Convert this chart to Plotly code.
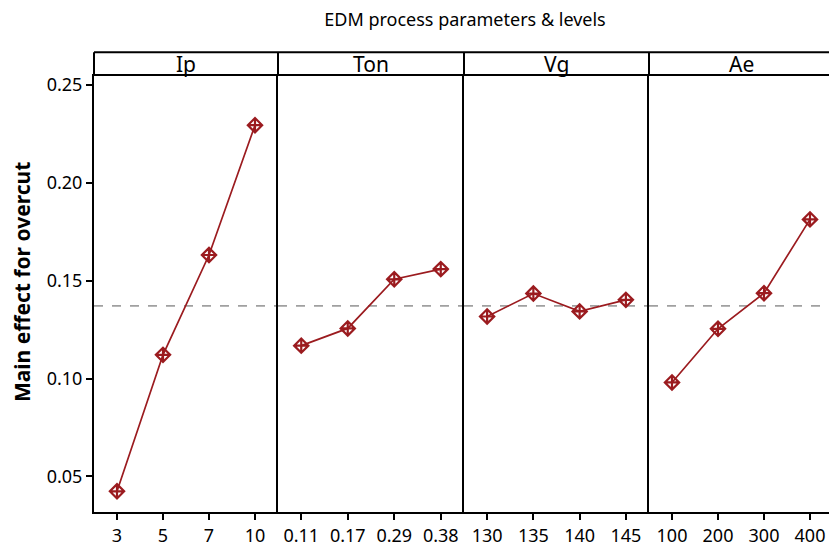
import plotly.graph_objects as go

# Factor levels and main-effect means for overcut
factors = ["Ip", "Ton", "Vg", "Ae"]
levels = {
    "Ip": ["3", "5", "7", "10"],
    "Ton": ["0.11", "0.17", "0.29", "0.38"],
    "Vg": ["130", "135", "140", "145"],
    "Ae": ["100", "200", "300", "400"],
}
ip_means = [0.0424, 0.1121, 0.1631, 0.2294]
ton_means = [0.1168, 0.1256, 0.1507, 0.1559]
vg_means = [0.1317, 0.1434, 0.1343, 0.1402]
ae_means = [0.0980, 0.1254, 0.1436, 0.1813]
means = {"Ip": ip_means, "Ton": ton_means, "Vg": vg_means, "Ae": ae_means}
y_ticks = [0.05, 0.10, 0.15, 0.20, 0.25]

all_vals = ip_means + ton_means + vg_means + ae_means
grand_mean = sum(all_vals) / len(all_vals)

W, H = 829, 547
ML, MR, MT, MB = 94, 0, 76, 31
PW = W - ML - MR
PH = H - MT - MB
edges = [0, 184, 370, 555, PW]  # panel boundaries in px within plot area
step = 46.0

RED = "#9B1B1F"
FONT = "Noto Sans"

fig = go.Figure()
for i, f in enumerate(factors):
    xa = "x" if i == 0 else f"x{i+1}"
    ya = "y" if i == 0 else f"y{i+1}"
    fig.add_trace(go.Scatter(
        x=list(range(4)), y=means[f], xaxis=xa, yaxis=ya,
        mode="lines+markers",
        line=dict(color=RED, width=1.7),
        marker=dict(symbol="diamond-cross-open", size=11, color=RED,
                    line=dict(color=RED, width=2.2)),
        showlegend=False, hoverinfo="x+y",
    ))

layout = dict(
    width=W, height=H,
    margin=dict(l=ML, r=MR, t=MT, b=MB),
    plot_bgcolor="white", paper_bgcolor="white",
    font=dict(family=FONT, size=18, color="black"),
    title=dict(text="EDM process parameters & levels", x=465 / W, xanchor="center",
               y=1 - 20 / H, yanchor="middle", font=dict(size=18)),
)

ymin = 0.25 + 9 / 99 * 0.05
ymax_low = 0.05 - 36 / 99 * 0.05
for i, f in enumerate(factors):
    key = "" if i == 0 else str(i + 1)
    d0, d1 = edges[i] / PW, edges[i + 1] / PW
    width_px = edges[i + 1] - edges[i]
    xr = [-0.5, -0.5 + width_px / step] if i == 3 else [-0.5, 3.5]
    layout["xaxis" + key] = dict(
        domain=[d0, d1], range=xr, anchor="y" + key,
        tickmode="array", tickvals=list(range(4)), ticktext=levels[f],
        ticks="outside", ticklen=6, tickwidth=1.5, tickcolor="black",
        showline=True, mirror=True, linecolor="black", linewidth=2,
        showgrid=False, zeroline=False, fixedrange=True,
        tickfont=dict(size=18),
    )
    layout["yaxis" + key] = dict(
        domain=[0, 1], range=[ymax_low, ymin], anchor="x" + key,
        tickmode="array", tickvals=y_ticks,
        ticktext=[f"{v:.2f}" for v in y_ticks],
        ticks="outside" if i == 0 else "", ticklen=6, tickwidth=1.5, tickcolor="black",
        showticklabels=(i == 0),
        showline=True, mirror=False, linecolor="black", linewidth=2,
        showgrid=False, zeroline=False, fixedrange=True,
        tickfont=dict(size=18),
    )

fig.update_layout(**layout)

strip_top = 1 + 24 / PH
shapes = []
annotations = []
# strip header frame
shapes.append(dict(type="line", xref="paper", yref="paper", x0=0, x1=1,
                   y0=strip_top, y1=strip_top, line=dict(color="black", width=2)))
for i, f in enumerate(factors):
    x0 = edges[i] / PW
    shapes.append(dict(type="line", xref="paper", yref="paper", x0=x0, x1=x0,
                       y0=1, y1=strip_top, line=dict(color="black", width=2)))
    xa = "x" if i == 0 else f"x{i+1}"
    ya = "y" if i == 0 else f"y{i+1}"
    # grand-mean reference line
    shapes.append(dict(type="line", xref=f"{xa} domain", yref=ya, x0=0, x1=1,
                       y0=grand_mean, y1=grand_mean,
                       line=dict(color="#A0A0A0", width=1.6, dash="dash"), layer="below"))
    panel_w = (edges[i + 1] - edges[i]) if i < 3 else 184
    xc = (edges[i] + panel_w / 2) / PW
    annotations.append(dict(text=f, xref="paper", yref="paper", x=xc,
                            y=(1 + strip_top) / 2, xanchor="center", yanchor="middle",
                            showarrow=False, font=dict(size=21)))

annotations.append(dict(text="<b>Main effect for overcut</b>", xref="paper", yref="paper",
                        x=(22 - ML) / PW, y=(H - MB - 284) / PH, textangle=-90,
                        xanchor="center", yanchor="middle", showarrow=False,
                        font=dict(size=21)))

fig.update_layout(shapes=shapes, annotations=annotations)
fig.write_html("out.html")
